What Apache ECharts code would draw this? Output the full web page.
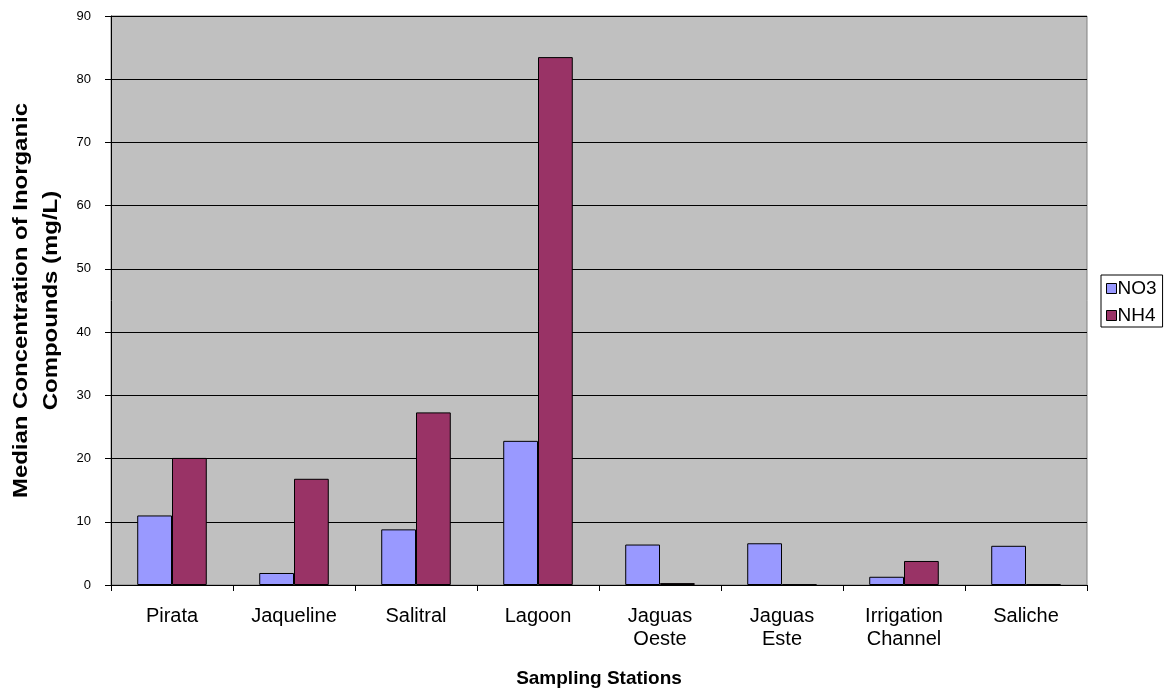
<!DOCTYPE html>
<html>
<head>
<meta charset="utf-8">
<script src="https://cdn.jsdelivr.net/npm/echarts@6/dist/echarts.min.js"></script>
<style>
  html, body { margin: 0; padding: 0; background: #fff; }
  #chart { width: 1171px; height: 693px; }
</style>
</head>
<body>
<div id="chart"></div>
<script>
// Sampling stations along the x axis
const stations = ['Pirata', 'Jaqueline', 'Salitral', 'Lagoon', 'Jaguas\nOeste', 'Jaguas\nEste', 'Irrigation\nChannel', 'Saliche'];
// Median concentrations (mg/L)
const no3 = [11.0, 1.9, 8.8, 22.8, 6.4, 6.6, 1.3, 6.2];
const nh4 = [20.1, 16.8, 27.3, 83.5, 0.3, 0.1, 3.8, 0.1];
// Value axis ticks
const yTicks = { min: 0, max: 90, interval: 10 };
// Value axis title, one entry per line
const yTitleLines = ['Median Concentration of Inorganic', 'Compounds (mg/L)'];

const font = 'Liberation Sans, Arial, sans-serif';
const chart = echarts.init(document.getElementById('chart'), null, { renderer: 'canvas' });

// Rotated two-line title of the value axis, slightly stretched along the text
const plotMidY = (16 + 585) / 2;
const yTitle = yTitleLines.map((line, i) => ({
  type: 'text',
  x: 21 + i * 30,
  y: plotMidY,
  rotation: Math.PI / 2,
  scaleX: 1.14,
  style: {
    text: line,
    font: 'bold 21px ' + font,
    fill: '#000',
    align: 'center',
    verticalAlign: 'middle'
  }
}));

chart.setOption({
  backgroundColor: '#ffffff',
  animation: false,
  textStyle: { fontFamily: font, color: '#000' },
  grid: {
    left: 111, right: 84, top: 16, bottom: 108,
    show: true, backgroundColor: '#c0c0c0', borderColor: '#808080', borderWidth: 1
  },
  graphic: yTitle,
  legend: {
    orient: 'vertical',
    left: 1101, top: 275,
    padding: [4, 6, 2, 5],
    itemGap: 8,
    itemWidth: 10, itemHeight: 10,
    backgroundColor: '#ffffff', borderColor: '#000', borderWidth: 1,
    borderRadius: 0,
    textStyle: { fontFamily: font, fontSize: 19, lineHeight: 19, color: '#000', padding: [0, 0, 0, -4] },
    itemStyle: { borderColor: '#000', borderWidth: 1 },
    data: [
      { name: 'NO3', icon: 'rect' },
      { name: 'NH4', icon: 'rect' }
    ]
  },
  xAxis: {
    type: 'category',
    data: stations,
    name: 'Sampling Stations',
    nameLocation: 'middle',
    nameGap: 84,
    nameTextStyle: { fontFamily: font, fontSize: 19, fontWeight: 'bold', color: '#000' },
    axisLine: { lineStyle: { color: '#000', width: 1 } },
    axisTick: { show: true, length: 6, lineStyle: { color: '#000' } },
    axisLabel: { fontFamily: font, fontSize: 20, color: '#000', margin: 20, lineHeight: 23, interval: 0 },
    splitLine: { show: false }
  },
  yAxis: {
    type: 'value',
    min: yTicks.min, max: yTicks.max, interval: yTicks.interval,
    axisLine: { show: true, lineStyle: { color: '#000', width: 1 } },
    axisTick: { show: true, length: 6, lineStyle: { color: '#000' } },
    axisLabel: { fontFamily: font, fontSize: 13, color: '#000', margin: 20 },
    splitLine: { show: true, lineStyle: { color: '#000', width: 1 } }
  },
  series: [
    {
      name: 'NO3', type: 'bar', data: no3,
      barGap: '0%', barCategoryGap: '43%',
      itemStyle: { color: '#9999ff', borderColor: '#000', borderWidth: 1 }
    },
    {
      name: 'NH4', type: 'bar', data: nh4,
      barGap: '0%', barCategoryGap: '43%',
      itemStyle: { color: '#993366', borderColor: '#000', borderWidth: 1 }
    }
  ]
});
</script>
</body>
</html>
